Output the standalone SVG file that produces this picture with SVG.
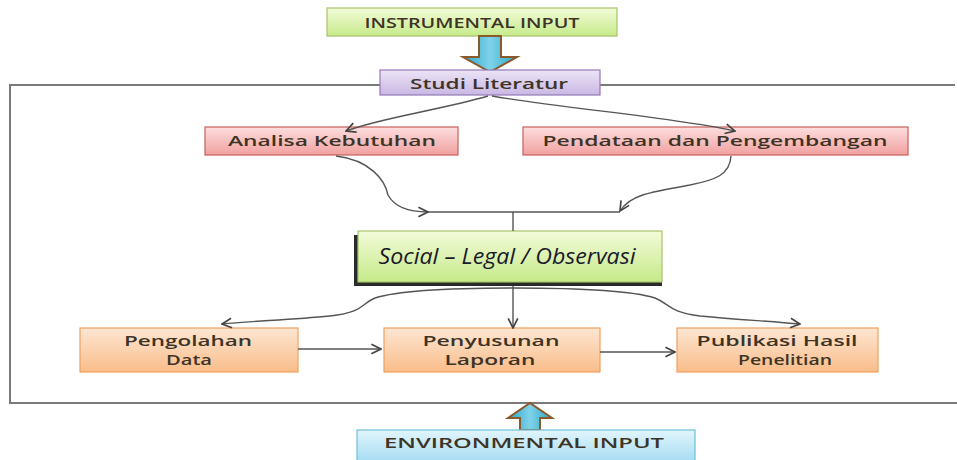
<svg xmlns="http://www.w3.org/2000/svg" width="957" height="460" viewBox="0 0 957 460">
<defs>
<linearGradient id="gGreen" x1="0" y1="0" x2="0" y2="1"><stop offset="0" stop-color="#f3fbd9"/><stop offset="1" stop-color="#c6ea8a"/></linearGradient>
<linearGradient id="gPurple" x1="0" y1="0" x2="0" y2="1"><stop offset="0" stop-color="#ece4f6"/><stop offset="1" stop-color="#c9b7e3"/></linearGradient>
<linearGradient id="gRed" x1="0" y1="0" x2="0" y2="1"><stop offset="0" stop-color="#fcdede"/><stop offset="1" stop-color="#f2a0a0"/></linearGradient>
<linearGradient id="gOrange" x1="0" y1="0" x2="0" y2="1"><stop offset="0" stop-color="#fde6d2"/><stop offset="1" stop-color="#f9bd8a"/></linearGradient>
<linearGradient id="gBlue" x1="0" y1="0" x2="0" y2="1"><stop offset="0" stop-color="#e2f5fc"/><stop offset="1" stop-color="#a5dcf2"/></linearGradient>
<linearGradient id="gCyan" x1="0" y1="0" x2="1" y2="0"><stop offset="0" stop-color="#2aa6c8"/><stop offset="0.5" stop-color="#7fd3ea"/><stop offset="1" stop-color="#2aa6c8"/></linearGradient>
<marker id="open" viewBox="0 0 10 10" refX="9" refY="5" markerWidth="12" markerHeight="12" markerUnits="userSpaceOnUse" orient="auto">
<path d="M1,1 L9,5 L1,9" fill="none" stroke="#444" stroke-width="1.4"/>
</marker>
</defs>
<style>
.box{stroke-width:1.2}
.t{font-family:"Open Sans","Liberation Sans",sans-serif;font-weight:600;fill:#3e3426;text-anchor:middle;font-size:14.5px}
.c{fill:none;stroke:#555;stroke-width:1.4}
</style>
<rect width="957" height="460" fill="#ffffff"/>

<g id="frame">
<polyline points="955,85 10,85 10,403 957,403" fill="none" stroke="#7a7a7a" stroke-width="2"/>
</g>

<g id="instrumental">
<rect class="box" x="327" y="8" width="290" height="28" fill="url(#gGreen)" stroke="#a8c46a"/>
<text class="t" x="472" y="28" textLength="215" lengthAdjust="spacingAndGlyphs">INSTRUMENTAL INPUT</text>
</g>

<g id="arrow-down">
<path d="M479,36 H501 V57 H517 L490,72 L463,57 H479 Z" fill="url(#gCyan)" stroke="#8b5a2b" stroke-width="2"/>
</g>

<g id="studi">
<rect class="box" x="380" y="70" width="220" height="25" fill="url(#gPurple)" stroke="#9478b8"/>
<text class="t" x="489" y="89" textLength="158" lengthAdjust="spacingAndGlyphs">Studi Literatur</text>
</g>

<g id="analisa">
<rect class="box" x="205" y="127" width="253" height="28" fill="url(#gRed)" stroke="#c9605c"/>
<text class="t" x="332" y="146" textLength="208" lengthAdjust="spacingAndGlyphs">Analisa Kebutuhan</text>
</g>

<g id="pendataan">
<rect class="box" x="523" y="127" width="385" height="28" fill="url(#gRed)" stroke="#c9605c"/>
<text class="t" x="715" y="146" textLength="345" lengthAdjust="spacingAndGlyphs">Pendataan dan Pengembangan</text>
</g>

<g id="social">
<rect x="354" y="235" width="308" height="51" fill="#2a2a2a"/>
<rect class="box" x="358" y="231" width="304" height="51" fill="url(#gGreen)" stroke="#a8c46a"/>
<text x="507" y="264" font-family="Open Sans,'Liberation Sans',sans-serif" font-style="italic" font-size="21" fill="#1a1a2a" text-anchor="middle" textLength="257" lengthAdjust="spacingAndGlyphs">Social – Legal / Observasi</text>
</g>

<g id="pengolahan">
<rect class="box" x="80" y="328" width="218" height="44" fill="url(#gOrange)" stroke="#f0a060"/>
<text class="t" x="188" y="346" textLength="128" lengthAdjust="spacingAndGlyphs">Pengolahan</text>
<text class="t" x="189" y="365" textLength="46" lengthAdjust="spacingAndGlyphs">Data</text>
</g>

<g id="penyusunan">
<rect class="box" x="384" y="328" width="216" height="44" fill="url(#gOrange)" stroke="#f0a060"/>
<text class="t" x="491" y="346" textLength="137" lengthAdjust="spacingAndGlyphs">Penyusunan</text>
<text class="t" x="490" y="365" textLength="91" lengthAdjust="spacingAndGlyphs">Laporan</text>
</g>

<g id="publikasi">
<rect class="box" x="677" y="328" width="201" height="44" fill="url(#gOrange)" stroke="#f0a060"/>
<text class="t" x="777" y="346" textLength="161" lengthAdjust="spacingAndGlyphs">Publikasi Hasil</text>
<text class="t" x="785" y="365" textLength="94" lengthAdjust="spacingAndGlyphs">Penelitian</text>
</g>

<g id="arrow-up">
<path d="M520,430 V418 H508 L530,403 L552,418 H540 V430 Z" fill="url(#gCyan)" stroke="#8b5a2b" stroke-width="2"/>
</g>

<g id="environmental">
<rect class="box" x="357" y="430" width="338" height="32" fill="url(#gBlue)" stroke="#6cc0d8"/>
<text class="t" x="524" y="448" textLength="280" lengthAdjust="spacingAndGlyphs">ENVIRONMENTAL INPUT</text>
</g>

<g id="connectors">
<path class="c" d="M488,96 C440,110 380,118 346,131" marker-end="url(#open)"/>
<path class="c" d="M492,96 C560,108 680,118 735,131" marker-end="url(#open)"/>
<path class="c" d="M336,156 C370,160 385,180 388,195 C395,208 410,212 428,212" marker-end="url(#open)"/>
<path class="c" d="M731,156 C730,175 715,180 690,185 C650,192 630,195 620,211" marker-end="url(#open)"/>
<path class="c" d="M428,212 H620"/>
<path class="c" d="M513,212 V231"/>
<path class="c" d="M513,286 V328" marker-end="url(#open)"/>
<path class="c" d="M513,288 C450,288 400,290 375,298 C360,304 365,312 330,316 C290,320 250,321 222,324" marker-end="url(#open)"/>
<path class="c" d="M513,288 C580,288 630,290 655,298 C670,304 668,312 700,316 C740,320 770,321 800,324" marker-end="url(#open)"/>
<path class="c" d="M298,349 H381" marker-end="url(#open)"/>
<path class="c" d="M600,352 H675" marker-end="url(#open)"/>
</g>
</svg>
